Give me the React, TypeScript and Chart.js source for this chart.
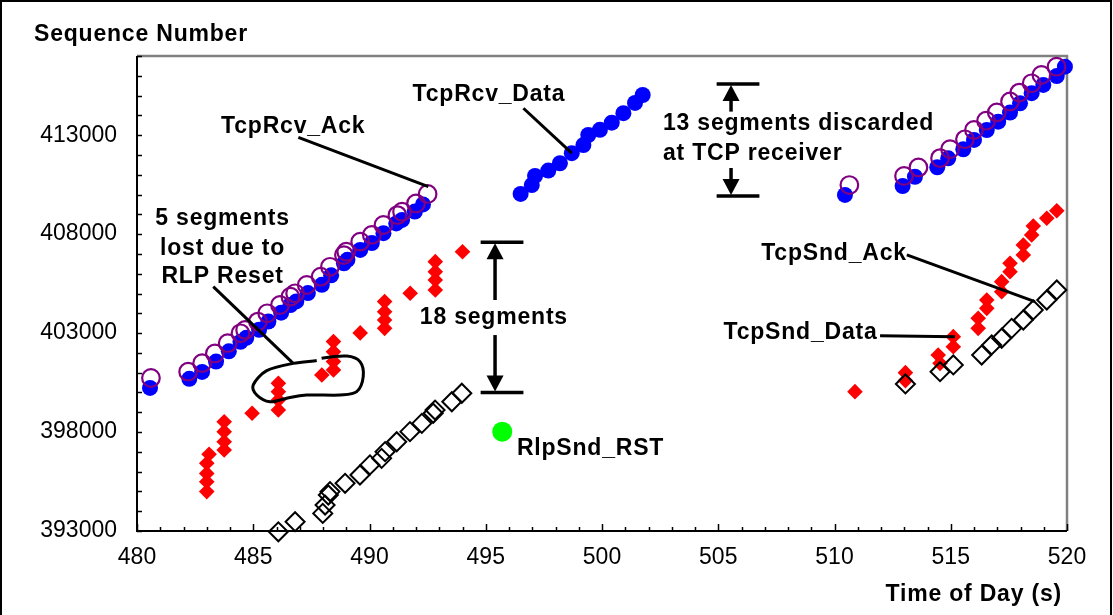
import React, { useEffect, useRef } from 'react';
import { Chart, registerables } from 'chart.js';

Chart.register(...registerables);

const FONT = "'Liberation Sans', Arial, Helvetica, sans-serif";

// ---- data (time of day in s, sequence number) ----
const rcvAckTime = [480.6, 482.2, 482.8, 483.35, 483.9, 484.45, 484.65, 485.2, 485.6, 486.15, 486.6, 486.8, 487.3, 487.9, 488.3, 488.9, 489.0, 489.6, 490.1, 490.6, 491.2, 491.4, 492.0, 492.5,
  510.64, 512.99, 513.61, 514.54, 514.97, 515.61, 516.0, 516.52, 516.98, 517.55, 517.95, 518.48, 518.9, 519.55];
const rcvAckSeq = [400730, 401050, 401480, 401970, 402490, 402990, 403160, 403580, 404000, 404420, 404840, 405010, 405430, 405850, 406350, 406940, 407110, 407620, 407960, 408460, 408960, 409130, 409550, 410030,
  410480, 410940, 411370, 411840, 412290, 412790, 413260, 413730, 414150, 414700, 415150, 415620, 416040, 416460];

const rcvDataTime = [480.56, 482.25, 482.8, 483.4, 483.95, 484.45, 484.7, 485.25, 485.65, 486.2, 486.6, 486.85, 487.35, 487.95, 488.35, 488.9, 489.05, 489.6, 490.1, 490.6, 491.15, 491.4, 491.95, 492.3,
  496.5, 496.98, 497.12, 497.69, 498.19, 498.7, 499.2, 499.41, 499.91, 500.42, 500.92, 501.42, 501.75,
  510.45, 512.93, 513.46, 514.42, 514.89, 515.54, 516.0, 516.55, 517.04, 517.55, 517.98, 518.48, 518.98, 519.56, 519.91];
const rcvDataSeq = [400230, 400690, 401040, 401560, 402080, 402560, 402760, 403170, 403580, 404030, 404420, 404600, 405020, 405440, 405920, 406530, 406700, 407200, 407550, 408050, 408540, 408720, 409140, 409500,
  410030, 410480, 410940, 411210, 411580, 412090, 412500, 413010, 413270, 413630, 414110, 414630, 415030,
  409980, 410430, 410900, 411380, 411830, 412290, 412760, 413260, 413680, 414140, 414610, 415120, 415540, 415990, 416460];

const sndAckTime = [483.0, 483.0, 483.0, 483.0, 483.1, 483.75, 483.75, 483.75, 483.75, 484.95, 486.08, 486.08, 486.08, 486.08, 487.95, 488.45, 488.45, 488.45, 488.45, 489.6, 490.65, 490.65, 490.65, 490.65, 491.75, 492.83, 492.83, 492.83, 492.83, 494.0,
  510.88, 513.05, 513.05, 514.46, 514.54, 515.11, 515.11, 516.18, 516.18, 516.55, 516.55, 517.19, 517.19, 517.55, 517.55, 518.12, 518.12, 518.48, 518.55, 519.13, 519.56];
const sndAckSeq = [394990, 395490, 395910, 396420, 396880, 397090, 397510, 398020, 398520, 398950, 399110, 399620, 400040, 400460, 400880, 401140, 401560, 402060, 402570, 403010, 403240, 403660, 404080, 404590, 405010, 405180, 405680, 406100, 406610, 407110,
  400040, 401000, 400600, 401890, 401470, 402820, 402310, 403240, 403750, 404250, 404670, 405090, 405600, 406100, 406530, 406950, 407450, 407960, 408410, 408800, 409180];

const sndDataTime = [486.08, 486.8, 487.99, 488.09, 488.23, 488.3, 488.95, 489.59, 490.02, 490.52, 490.67, 491.17, 491.74, 492.25, 492.74, 492.82, 493.54, 493.97,
  513.05, 514.54, 515.11, 516.33, 516.76, 517.19, 517.62, 518.12, 518.55, 519.13, 519.56];
const sndDataSeq = [392960, 393470, 393890, 394310, 394820, 394990, 395410, 395830, 396340, 396670, 397010, 397510, 398020, 398440, 398950, 399110, 399530, 399960,
  400430, 401050, 401390, 401890, 402400, 402740, 403240, 403660, 404170, 404670, 405180];

const rstTime = [495.71];
const rstSeq = [398020];

const xTickLabels = [480, 485, 490, 495, 500, 505, 510, 515, 520];
const yTickLabels = [393000, 398000, 403000, 408000, 413000];

const zip = (xs: number[], ys: number[]) => xs.map((x, i) => ({ x, y: ys[i] }));

// blob outline around the lost segments (data coordinates), open at the top
const blobTime = [487.94, 489.02, 489.59, 489.73, 489.45, 488.73, 487.3, 486.44, 485.72, 485.15, 485.0, 485.58, 486.72, 487.73];
const blobSeq = [401730, 401840, 401560, 400800, 400040, 399870, 399870, 399710, 399530, 399870, 400380, 401100, 401470, 401610];

const annotationPlugin = {
  id: 'annotations',
  beforeDatasetsDraw(chart: any) {
    const { ctx, chartArea: a, scales } = chart;
    const xs = scales.x, ys = scales.y;
    ctx.save();
    ctx.strokeStyle = '#808080';
    ctx.lineWidth = 2.5;
    ctx.beginPath();
    ctx.moveTo(a.left, a.top);
    ctx.lineTo(a.right, a.top);
    ctx.lineTo(a.right, a.bottom);
    ctx.stroke();
    ctx.strokeStyle = '#000';
    ctx.lineWidth = 2;
    ctx.beginPath();
    ctx.moveTo(a.left, a.top);
    ctx.lineTo(a.left, a.bottom);
    ctx.lineTo(a.right, a.bottom);
    ctx.stroke();
    ctx.lineWidth = 1.5;
    xs.ticks.forEach((t: any) => {
      const p = Math.round(xs.getPixelForValue(t.value)) + 0.5;
      const len = t.value % 5 === 0 ? 7 : 4;
      ctx.beginPath();
      ctx.moveTo(p, a.bottom);
      ctx.lineTo(p, a.bottom - len);
      ctx.stroke();
    });
    ys.ticks.forEach((t: any) => {
      const p = Math.round(ys.getPixelForValue(t.value)) + 0.5;
      ctx.beginPath();
      ctx.moveTo(a.left, p);
      ctx.lineTo(a.left + 5, p);
      ctx.stroke();
    });
    ctx.restore();
  },
  afterDraw(chart: any) {
    const { ctx, scales, width, height } = chart;
    const xs = scales.x, ys = scales.y;
    const X = (v: number) => xs.getPixelForValue(v);
    const Y = (v: number) => ys.getPixelForValue(v);
    ctx.save();
    ctx.fillStyle = '#000';
    ctx.strokeStyle = '#000';
    ctx.lineCap = 'butt';
    const seg = (x1: number, y1: number, x2: number, y2: number, w = 3) => {
      ctx.lineWidth = w;
      ctx.beginPath();
      ctx.moveTo(x1, y1);
      ctx.lineTo(x2, y2);
      ctx.stroke();
    };
    const tri = (x: number, tip: number, dir: number) => {
      ctx.beginPath();
      ctx.moveTo(x, tip);
      ctx.lineTo(x - 8.5, tip - dir * 16);
      ctx.lineTo(x + 8.5, tip - dir * 16);
      ctx.closePath();
      ctx.fill();
    };
    const bracket = (x0: number, x1: number, xa: number, yTop: number, yBot: number, upFrom: number, downFrom: number) => {
      const L = X(x0), R = X(x1), A = X(xa), T = Y(yTop), B = Y(yBot);
      seg(L, T, R, T, 3.5);
      seg(L, B, R, B, 3.5);
      seg(A, Y(upFrom), A, T + 12, 3.5);
      tri(A, T + 1, -1);
      seg(A, Y(downFrom), A, B - 12, 3.5);
      tri(A, B - 1, 1);
    };

    // leader lines
    seg(X(496.62), Y(414360), X(498.7), Y(412090));
    seg(X(486.94), Y(412890), X(492.53), Y(410400));
    seg(X(483.28), Y(405345), X(486.72), Y(401470));
    seg(X(513.11), Y(406950), X(518.62), Y(404590));
    seg(X(511.96), Y(402870), X(515.18), Y(402820));

    // brackets
    bracket(494.78, 496.62, 495.4, 407590, 400000, 404670, 402900);
    bracket(504.93, 506.77, 505.55, 415590, 409930, 414190, 411340);

    // blob
    const pts = blobTime.map((t, i) => [X(t), Y(blobSeq[i])]);
    const n = pts.length;
    ctx.lineWidth = 3;
    ctx.beginPath();
    ctx.moveTo(pts[0][0], pts[0][1]);
    for (let i = 0; i < n - 1; i++) {
      const p0 = pts[(i - 1 + n) % n], p1 = pts[i], p2 = pts[i + 1], p3 = pts[(i + 2) % n];
      ctx.bezierCurveTo(
        p1[0] + (p2[0] - p0[0]) / 6, p1[1] + (p2[1] - p0[1]) / 6,
        p2[0] - (p3[0] - p1[0]) / 6, p2[1] - (p3[1] - p1[1]) / 6,
        p2[0], p2[1]
      );
    }
    ctx.stroke();

    // texts
    ctx.font = `bold 23px ${FONT}`;
    (ctx as any).letterSpacing = '0.8px';
    ctx.textBaseline = 'middle';
    const txt = (s: string, x: number, y: number, align: CanvasTextAlign = 'center') => {
      ctx.textAlign = align;
      ctx.fillText(s, x, y);
    };
    txt('TcpRcv_Data', X(495.14), Y(415030));
    txt('TcpRcv_Ack', X(486.72), Y(413430));
    txt('5 segments', X(483.68), Y(408800));
    txt('lost due to', X(483.68), Y(407285));
    txt('RLP Reset', X(483.68), Y(405850));
    txt('18 segments', X(495.35), Y(403760));
    txt('13 segments discarded', X(502.62), Y(413570), 'left');
    txt('at TCP receiver', X(502.62), Y(412050), 'left');
    txt('TcpSnd_Ack', X(509.98), Y(407000));
    txt('TcpSnd_Data', X(508.54), Y(403000));
    txt('RlpSnd_RST', X(496.34), Y(397170), 'left');

    // axis titles
    txt('Sequence Number', 34, 35, 'left');
    txt('Time of Day (s)', 1062, 595, 'right');

    // outer border
    ctx.lineWidth = 2;
    ctx.strokeStyle = '#000';
    ctx.beginPath();
    ctx.moveTo(1, height);
    ctx.lineTo(1, 1);
    ctx.lineTo(width - 2, 1);
    ctx.lineTo(width - 2, height);
    ctx.stroke();
    ctx.restore();
  },
};

export default function App() {
  const ref = useRef<HTMLCanvasElement | null>(null);
  useEffect(() => {
    if (!ref.current) return;
    const chart = new Chart(ref.current, {
      type: 'scatter',
      data: {
        datasets: [
          {
            label: 'TcpRcv_Ack',
            data: zip(rcvAckTime, rcvAckSeq),
            pointStyle: 'circle',
            pointRadius: 8.8,
            backgroundColor: 'rgba(0,0,0,0)',
            borderColor: '#800080',
            borderWidth: 2.2,
            clip: false,
          } as any,
          {
            label: 'TcpRcv_Data',
            data: zip(rcvDataTime, rcvDataSeq),
            pointStyle: 'circle',
            pointRadius: 8,
            backgroundColor: '#0000FF',
            borderColor: '#0000FF',
            borderWidth: 0,
            clip: false,
          },
          {
            label: 'TcpSnd_Data',
            data: zip(sndDataTime, sndDataSeq),
            pointStyle: 'rectRot',
            pointRadius: 9.5,
            backgroundColor: 'rgba(0,0,0,0)',
            borderColor: '#000',
            borderWidth: 2,
            clip: false,
          },
          {
            label: 'TcpSnd_Ack',
            data: zip(sndAckTime, sndAckSeq),
            pointStyle: 'rectRot',
            pointRadius: 7.8,
            backgroundColor: '#FF0000',
            borderColor: '#FF0000',
            borderWidth: 0,
            clip: false,
          },
          {
            label: 'RlpSnd_RST',
            data: zip(rstTime, rstSeq),
            pointStyle: 'circle',
            pointRadius: 10,
            backgroundColor: '#00FF00',
            borderColor: '#00FF00',
            borderWidth: 0,
            clip: false,
          },
        ],
      },
      options: {
        animation: false,
        responsive: false,
        maintainAspectRatio: false,
        layout: { padding: { left: 0, top: 56, right: 46, bottom: 0 } },
        plugins: { legend: { display: false }, tooltip: { enabled: false } },
        elements: { point: { hoverRadius: 0 } },
        scales: {
          x: {
            type: 'linear',
            min: 480,
            max: 520,
            afterFit: (s: any) => { s.height = 84; },
            grid: { display: false, drawTicks: false },
            border: { display: false },
            ticks: {
              stepSize: 1,
              autoSkip: false,
              maxRotation: 0,
              padding: 13,
              color: '#000',
              font: { family: FONT, size: 23 },
              callback: (v: any) => (xTickLabels.includes(Number(v)) ? String(v) : ''),
            },
          },
          y: {
            type: 'linear',
            min: 393000,
            max: 417000,
            afterFit: (s: any) => { s.width = 137; },
            grid: { display: false, drawTicks: false },
            border: { display: false },
            ticks: {
              stepSize: 1000,
              autoSkip: false,
              padding: 20,
              color: '#000',
              font: { family: FONT, size: 23 },
              callback: (v: any) => (yTickLabels.includes(Number(v)) ? String(v) : ''),
            },
          },
        },
      },
      plugins: [annotationPlugin],
    });
    return () => chart.destroy();
  }, []);
  return (
    <div style={{ position: 'fixed', left: 0, top: 0, width: 1113, height: 615, background: '#fff' }}>
      <canvas ref={ref} width={1113} height={615} style={{ display: 'block' }} />
    </div>
  );
}
